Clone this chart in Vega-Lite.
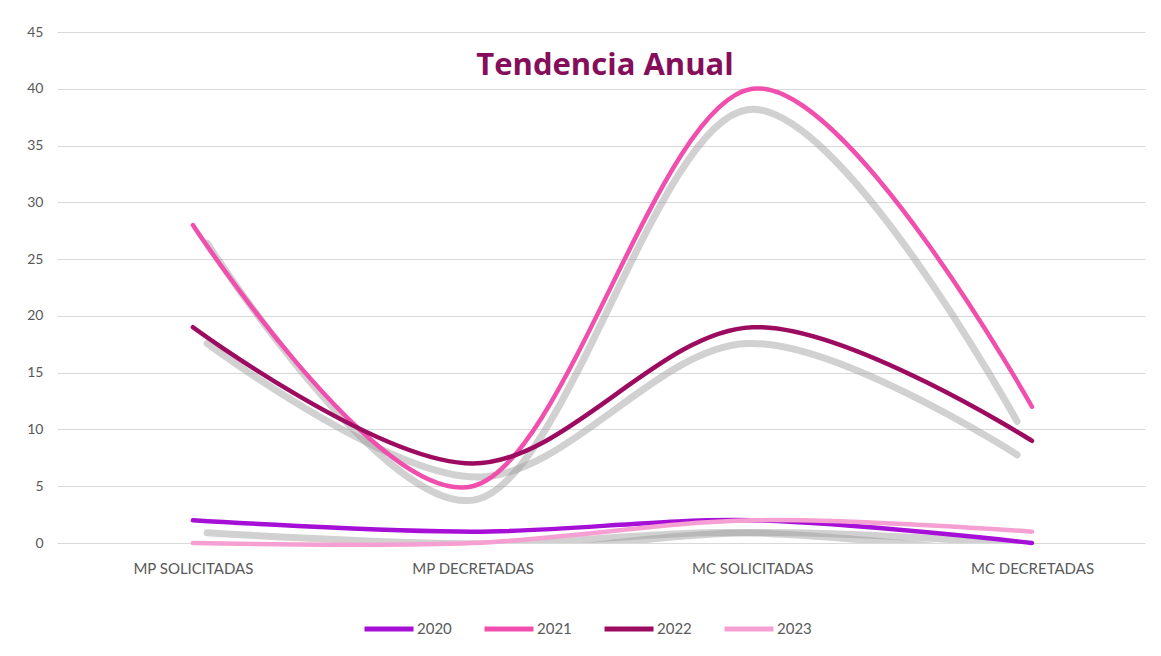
{
  "$schema": "https://vega.github.io/schema/vega-lite/v6.json",
  "width": 1088,
  "height": 511,
  "autosize": "none",
  "padding": {"left": 57, "top": 32, "right": 16, "bottom": 113},
  "background": "white",
  "title": {
    "text": "Tendencia Anual",
    "font": "Open Sans",
    "fontSize": 31,
    "fontWeight": "bold",
    "color": "#850d5a",
    "anchor": "middle",
    "offset": -57,
    "dx": 4
  },
  "config": {
    "view": {"stroke": null},
    "font": "Lato",
    "axis": {
      "labelFont": "Lato",
      "labelColor": "#595959",
      "labelFontSize": 14,
      "domain": false,
      "ticks": false,
      "title": null,
      "gridColor": "#d9d9d9",
      "gridWidth": 1.2
    }
  },
  "data": {
    "values": [
      {"categoria": "MP SOLICITADAS", "anio": "2020", "valor": 2},
      {"categoria": "MP DECRETADAS", "anio": "2020", "valor": 1},
      {"categoria": "MC SOLICITADAS", "anio": "2020", "valor": 2},
      {"categoria": "MC DECRETADAS", "anio": "2020", "valor": 0},
      {"categoria": "MP SOLICITADAS", "anio": "2021", "valor": 28},
      {"categoria": "MP DECRETADAS", "anio": "2021", "valor": 5},
      {"categoria": "MC SOLICITADAS", "anio": "2021", "valor": 40},
      {"categoria": "MC DECRETADAS", "anio": "2021", "valor": 12},
      {"categoria": "MP SOLICITADAS", "anio": "2022", "valor": 19},
      {"categoria": "MP DECRETADAS", "anio": "2022", "valor": 7},
      {"categoria": "MC SOLICITADAS", "anio": "2022", "valor": 19},
      {"categoria": "MC DECRETADAS", "anio": "2022", "valor": 9},
      {"categoria": "MP SOLICITADAS", "anio": "2023", "valor": 0},
      {"categoria": "MP DECRETADAS", "anio": "2023", "valor": 0},
      {"categoria": "MC SOLICITADAS", "anio": "2023", "valor": 2},
      {"categoria": "MC DECRETADAS", "anio": "2023", "valor": 1}
    ]
  },
  "layer": [
    {
      "mark": {"type": "line", "interpolate": "cardinal", "strokeWidth": 7, "color": "#9a9a9a", "opacity": 0.45, "strokeCap": "round", "clip": true},
      "encoding": {
        "x": {"field": "categoria", "type": "ordinal", "sort": null, "scale": {"type": "point", "padding": 0.515, "align": 0.54}, "axis": null},
        "y": {"field": "valor", "type": "quantitative", "scale": {"domain": [0, 45], "range": [523, 22], "nice": false, "zero": true}, "axis": null},
        "detail": {"field": "anio"}
      }
    },
    {
      "mark": {"type": "line", "interpolate": "cardinal", "strokeWidth": 4.5, "strokeCap": "round"},
      "encoding": {
        "x": {"field": "categoria", "type": "ordinal", "sort": null, "scale": {"type": "point", "padding": 0.445, "align": 0.546},
          "axis": {"labelFontSize": 15, "labelPadding": 18, "grid": false, "labelAngle": 0}},
        "y": {"field": "valor", "type": "quantitative", "scale": {"domain": [0, 45], "nice": false},
          "axis": {"values": [0, 5, 10, 15, 20, 25, 30, 35, 40, 45], "labelPadding": 14, "grid": true}},
        "color": {
          "field": "anio",
          "type": "nominal",
          "scale": {"domain": ["2020", "2021", "2022", "2023"], "range": ["#a60fd6", "#f04fae", "#9c0b5f", "#f59fd2"]},
          "legend": {
            "title": null,
            "orient": "none",
            "legendX": 305,
            "legendY": 570,
            "direction": "horizontal",
            "symbolType": "stroke",
            "symbolSize": 2400,
            "symbolStrokeWidth": 5,
            "labelFont": "Lato",
            "labelFontSize": 15,
            "labelColor": "#595959",
            "labelOffset": 1,
            "columnPadding": 22
          }
        }
      }
    }
  ],
  "resolve": {"scale": {"x": "independent", "y": "independent"}}
}
